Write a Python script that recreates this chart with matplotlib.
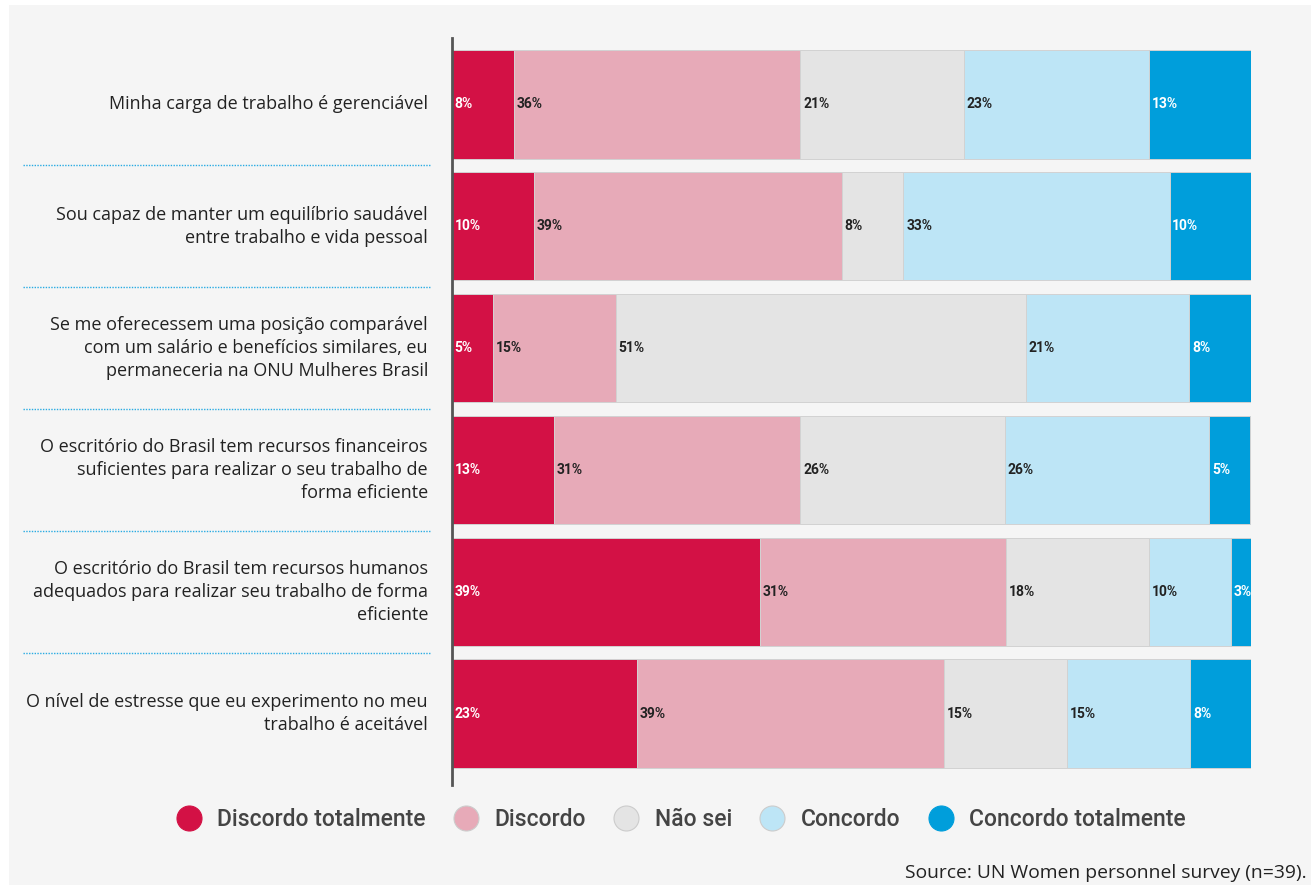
import matplotlib
matplotlib.use("Agg")
import matplotlib.pyplot as plt
from matplotlib.lines import Line2D
from matplotlib.patches import Rectangle
from matplotlib.transforms import blended_transform_factory

questions = [
    "Minha carga de trabalho é gerenciável",
    "Sou capaz de manter um equilíbrio saudável\nentre trabalho e vida pessoal",
    "Se me oferecessem uma posição comparável\ncom um salário e benefícios similares, eu\npermaneceria na ONU Mulheres Brasil",
    "O escritório do Brasil tem recursos financeiros\nsuficientes para realizar o seu trabalho de\nforma eficiente",
    "O escritório do Brasil tem recursos humanos\nadequados para realizar seu trabalho de forma\neficiente",
    "O nível de estresse que eu experimento no meu\ntrabalho é aceitável",
]
answers = ["Discordo totalmente", "Discordo", "Não sei", "Concordo", "Concordo totalmente"]

# percent of respondents per answer, one list per answer, one value per question
discordo_tot = [7.7, 10.3, 5.1, 12.8, 38.5, 23.1]
discordo = [35.9, 38.5, 15.4, 30.8, 30.8, 38.5]
nao_sei = [20.5, 7.7, 51.3, 25.6, 17.9, 15.4]
concordo = [23.1, 33.3, 20.5, 25.6, 10.3, 15.4]
concordo_tot = [12.8, 10.3, 7.7, 5.1, 2.6, 7.7]

colors = ["#d31145", "#e7aab8", "#e4e4e4", "#bde5f6", "#009edb"]
label_colors = ["white", "#222222", "#222222", "#222222", "white"]

series = [discordo_tot, discordo, nao_sei, concordo, concordo_tot]

W, H = 1311, 890
fig = plt.figure(figsize=(W / 100, H / 100), dpi=100, facecolor="white")
fig.patches.append(Rectangle((9 / W, 1 - 885 / H), 1, 880 / H,
                             transform=fig.transFigure, facecolor="#f5f5f5",
                             edgecolor="none", zorder=-10))

ax = fig.add_axes([452 / W, 1 - 785 / H, 799 / W, 747 / H])
ax.set_facecolor("none")

y = list(range(len(questions)))
left = [0.0] * len(questions)
for vals, c, lc in zip(series, colors, label_colors):
    ax.barh(y, vals, left=left, height=0.89, color=c, edgecolor="#d2d2d2", linewidth=0.7)
    for i, v in enumerate(vals):
        ax.text(left[i] + 0.35, i, f"{int(v + 0.5)}%", ha="left", va="center",
                fontsize=10, fontweight="bold", color=lc, family="Roboto")
    left = [l + v for l, v in zip(left, vals)]

ax.set_xlim(0, 100)
ax.set_ylim(5.586, -0.545)
for s in ["top", "right", "bottom"]:
    ax.spines[s].set_visible(False)
ax.spines["left"].set_color("#555555")
ax.spines["left"].set_linewidth(2)
ax.set_xticks([])
ax.set_yticks([])

# question labels and dotted separators
trans = blended_transform_factory(fig.transFigure, ax.transData)
for i, q in enumerate(questions):
    ax.text(428 / W, i, q, transform=trans, ha="right", va="center",
            fontsize=13, color="#222222", family="Open Sans", linespacing=1.35)
for i in range(len(questions) - 1):
    ax.plot([23 / W, 430 / W], [i + 0.5, i + 0.5], transform=trans, clip_on=False,
            color="#29abe2", linestyle=(0, (1, 1)), linewidth=1)

handles = [Line2D([], [], marker="o", linestyle="none", markersize=18,
                  markerfacecolor=c, markeredgecolor=("#cccccc" if c in ("#e4e4e4", "#bde5f6", "#e7aab8") else c),
                  markeredgewidth=0.8) for c in colors]
leg = fig.legend(handles, answers, loc="center", bbox_to_anchor=(676 / W, 1 - 820 / H),
                 ncol=5, frameon=False, handletextpad=0.25, columnspacing=0.75,
                 prop={"family": "Roboto", "size": 16.5, "weight": "medium"})
for t in leg.get_texts():
    t.set_color("#444444")

fig.text(1307 / W, 1 - 873 / H, "Source: UN Women personnel survey (n=39).",
         ha="right", va="center", fontsize=13.9, color="#222222", family="Open Sans")

fig.savefig("out.png", dpi=100, facecolor="white")
